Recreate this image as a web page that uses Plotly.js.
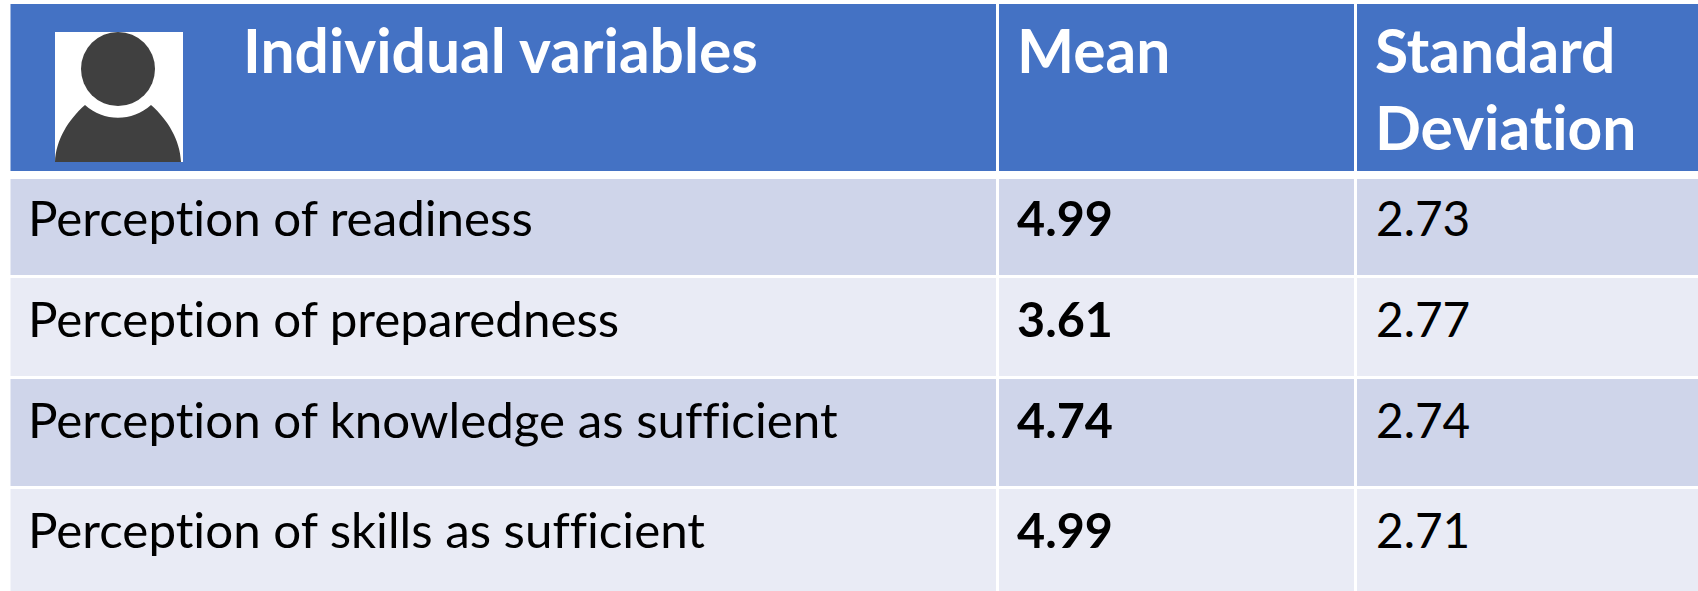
<!DOCTYPE html>
<html><head><meta charset="utf-8">
<script src="https://cdn.plot.ly/plotly-3.0.1.min.js"></script>
<style>html,body{margin:0;padding:0;background:#fff;overflow:hidden}
svg text{font-variant-ligatures:none;font-feature-settings:"liga" 0}</style>
</head><body><div id="chart" style="width:1698px;height:591px"></div>
<script>
const headerLabels = ["Individual variables", "Mean", "Standard", "Deviation"];
const variables = ["Perception of readiness", "Perception of preparedness", "Perception of knowledge as sufficient", "Perception of skills as sufficient"];
const means = ["4.99", "3.61", "4.74", "4.99"];
const standardDeviations = ["2.73", "2.77", "2.74", "2.71"];

const colEdges = [[10.5, 996], [999, 1354], [1357, 1698]];
const rowEdges = [[179, 275], [278, 376], [379, 486], [489, 591]];
const headerEdge = [4, 171];
const rowTextY = [224, 325, 426, 536];
const FONT = "Lato, Carlito, sans-serif";

const shapes = [];
const rect = (x, y, c) => shapes.push({type: "rect", xref: "x", yref: "y", x0: x[0], x1: x[1], y0: y[0], y1: y[1], fillcolor: c, line: {width: 0}, layer: "below"});
colEdges.forEach(x => {
  rect(x, headerEdge, "#4472C4");
  rowEdges.forEach((y, i) => rect(x, y, i % 2 ? "#E9EBF5" : "#CFD5EA"));
});
// person icon
rect([55, 183], [32, 162], "#FFFFFF");
shapes.push({type: "circle", xref: "x", yref: "y", x0: 81, x1: 155, y0: 32, y1: 106, fillcolor: "#404040", line: {width: 0}, layer: "below"});
shapes.push({type: "path", xref: "x", yref: "y", path: "M55,162 C56,140 68,120 85,105 C103.7,122.1 132.3,122.1 151,105 C168,120 180,140 181,162 Z", fillcolor: "#404040", line: {width: 0}, layer: "below"});

const textTrace = (x, y, text, color, size, weight) => ({
  type: "scatter", mode: "text", x, y, text, textposition: "middle right", cliponaxis: false, hoverinfo: "skip",
  textfont: {family: FONT, size, color, weight}
});
const data = [
  textTrace([243, 1017, 1375, 1375], [58, 58, 58, 135], headerLabels, "#FFFFFF", 60.5, 700),
  textTrace(variables.map(() => 28), rowTextY, variables, "#000000", 49.3, 400),
  textTrace(means.map(() => 1017), rowTextY, means, "#000000", 48.5, 700),
  textTrace(standardDeviations.map(() => 1376), rowTextY, standardDeviations, "#000000", 47.7, 400)
];
const layout = {
  width: 1698, height: 591, margin: {l: 0, r: 0, t: 0, b: 0},
  paper_bgcolor: "#FFFFFF", plot_bgcolor: "#FFFFFF", showlegend: false,
  xaxis: {range: [0, 1698], visible: false, fixedrange: true},
  yaxis: {range: [591, 0], visible: false, fixedrange: true},
  shapes
};
Plotly.newPlot("chart", data, layout, {displayModeBar: false, staticPlot: true});
</script></body></html>
